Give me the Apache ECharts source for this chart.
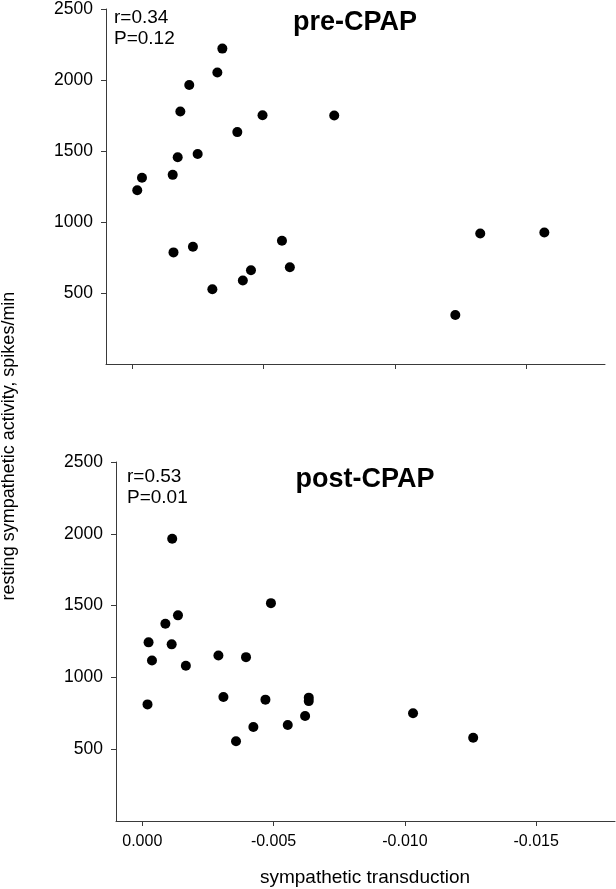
<!DOCTYPE html>
<html>
<head>
<meta charset="utf-8">
<script src="https://cdn.jsdelivr.net/npm/echarts@6/dist/echarts.min.js"></script>
<style>
html,body{margin:0;padding:0;background:#fff;}
#chart{width:616px;height:889px;}
</style>
</head>
<body>
<div id="chart"></div>
<script>
// pre-CPAP: sympathetic transduction (x) vs resting sympathetic activity (y)
var preX = [-0.00343, -0.00324, -0.00217, -0.00183, -0.00496, -0.00400, -0.00173, -0.00249, -0.00037, -0.00154, -0.00019,
            -0.00769, -0.00157, -0.00231, -0.00305, -0.00421, -0.00452, -0.00570, -0.00600, -0.01325, -0.01569, -0.01230];
var preY = [2221, 2053, 1965, 1778, 1752, 1633, 1456, 1479, 1311, 1332, 1223,
            1750, 786, 826, 527, 588, 660, 868, 681, 919, 926, 345];
// post-CPAP
var postX = [-0.00114, -0.00490, -0.00136, -0.00088, -0.00024, -0.00112, -0.00037, -0.00166, -0.00290, -0.00395, -0.00020,
             -0.00309, -0.00469, -0.00423, -0.00357, -0.00554, -0.00620, -0.00634, -0.00634, -0.01031, -0.01260];
var postY = [1966, 1517, 1432, 1374, 1244, 1230, 1118, 1081, 1153, 1141, 812,
             863, 845, 654, 555, 668, 731, 859, 835, 750, 580];
var xTicks = [0, -0.005, -0.010, -0.015];
var yTicks = [500, 1000, 1500, 2000, 2500];
var titles = ['pre-CPAP', 'post-CPAP'];
var stats = ['r=0.34\nP=0.12', 'r=0.53\nP=0.01'];
var xTitle = 'sympathetic transduction';
var yTitle = 'resting sympathetic activity, spikes/min';

var FONT = '"Liberation Sans", Arial, sans-serif';
var AX = '#3a3a3a';
var TXT = '#000';
function zip(a, b) { return a.map(function (v, i) { return [v, b[i]]; }); }

function xAxis(idx, showLabel) {
  return {
    type: 'value', gridIndex: idx, min: -0.018, max: 0.001, inverse: true,
    splitLine: {show: false},
    axisLine: {show: true, onZero: false, lineStyle: {color: AX, width: 1}},
    axisTick: {show: true, customValues: xTicks, length: 5, lineStyle: {color: AX}},
    axisLabel: {show: showLabel, customValues: xTicks, margin: 13, color: TXT, fontSize: 16, fontFamily: FONT,
      formatter: function (v) { return v.toFixed(3); }}
  };
}
function yAxis(idx) {
  return {
    type: 'value', gridIndex: idx, min: 0, max: 2500,
    splitLine: {show: false},
    axisLine: {show: true, onZero: false, lineStyle: {color: AX, width: 1}},
    axisTick: {show: true, customValues: yTicks, length: 5, lineStyle: {color: AX}},
    axisLabel: {show: true, customValues: yTicks, margin: 13, color: TXT, fontSize: 17.5, fontFamily: FONT,
      formatter: function (v) { return String(v); }}
  };
}

var chart = echarts.init(document.getElementById('chart'), null, {renderer: 'canvas'});
chart.setOption({
  animation: false,
  backgroundColor: '#fff',
  grid: [
    {left: 106, top: 7, width: 499, height: 357},
    {left: 116, top: 462, width: 499, height: 359}
  ],
  xAxis: [xAxis(0, false), xAxis(1, true)],
  yAxis: [yAxis(0), yAxis(1)],
  series: [
    {type: 'scatter', xAxisIndex: 0, yAxisIndex: 0, data: zip(preX, preY), symbolSize: 10,
     itemStyle: {color: '#000', opacity: 1}},
    {type: 'scatter', xAxisIndex: 1, yAxisIndex: 1, data: zip(postX, postY), symbolSize: 10,
     itemStyle: {color: '#000', opacity: 1}}
  ],
  graphic: [
    {type: 'text', x: 355, y: 23, style: {text: titles[0], font: 'bold 27px ' + FONT, fill: '#000', align: 'center', verticalAlign: 'middle'}},
    {type: 'text', x: 365, y: 480, style: {text: titles[1], font: 'bold 27px ' + FONT, fill: '#000', align: 'center', verticalAlign: 'middle'}},
    {type: 'text', x: 114, y: 7, style: {text: stats[0], font: '19px ' + FONT, lineHeight: 21.5, fill: TXT, align: 'left', verticalAlign: 'top'}},
    {type: 'text', x: 127, y: 466, style: {text: stats[1], font: '19px ' + FONT, lineHeight: 21.5, fill: TXT, align: 'left', verticalAlign: 'top'}},
    {type: 'text', x: 365, y: 878, style: {text: xTitle, font: '19px ' + FONT, fill: TXT, align: 'center', verticalAlign: 'middle'}},
    {type: 'text', x: 9, y: 446, rotation: Math.PI / 2, style: {text: yTitle, font: '18px ' + FONT, fill: TXT, align: 'center', verticalAlign: 'middle'}}
  ]
});
</script>
</body>
</html>
